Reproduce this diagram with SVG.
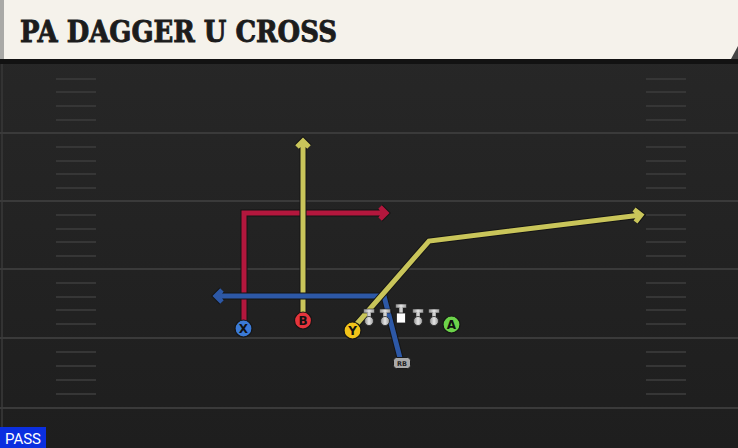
<svg xmlns="http://www.w3.org/2000/svg" width="738" height="448" viewBox="0 0 738 448">
<defs>
<linearGradient id="fieldGrad" x1="0" y1="0" x2="0" y2="1">
<stop offset="0" stop-color="#282828"/>
<stop offset="1" stop-color="#1e1e1e"/>
</linearGradient>
<linearGradient id="olGrad" x1="0" y1="0" x2="1" y2="0">
<stop offset="0" stop-color="#8a8a8a"/>
<stop offset="0.5" stop-color="#e6e6e6"/>
<stop offset="1" stop-color="#9a9a9a"/>
</linearGradient>
<g id="lineman">
<rect x="-5.5" y="-12" width="11" height="4" fill="url(#olGrad)" stroke="#222" stroke-width="0.6"/>
<rect x="-2" y="-9" width="4" height="7" fill="url(#olGrad)"/>
<circle cx="0" cy="0" r="4.5" fill="url(#olGrad)" stroke="#222" stroke-width="0.8"/>
</g>
</defs>
<style>
.yard{stroke:#3a3a3a;stroke-width:2}
.hash{stroke:#363636;stroke-width:2}
.ol{fill:none;stroke:#151515;stroke-width:7;stroke-linejoin:miter;stroke-linecap:butt}
.rt{fill:none;stroke-width:5;stroke-linejoin:miter;stroke-linecap:butt}
.red{stroke:#b3173d}
.yel{stroke:#c9c55a}
.blu{stroke:#2d58a6}
.lbl{font-family:"DejaVu Sans","Liberation Sans",sans-serif;font-weight:bold;font-size:12px;fill:#111;text-anchor:middle}
.pc{stroke:#151515;stroke-width:1.2}
</style>

<!-- field -->
<rect x="0" y="0" width="738" height="448" fill="url(#fieldGrad)"/>
<line x1="2" y1="62" x2="2" y2="448" stroke="#333" stroke-width="2"/>
<g id="yardlines">
<line class="yard" x1="0" y1="133" x2="738" y2="133"/>
<line class="yard" x1="0" y1="201" x2="738" y2="201"/>
<line class="yard" x1="0" y1="269" x2="738" y2="269"/>
<line class="yard" x1="0" y1="338" x2="738" y2="338"/>
<line class="yard" x1="0" y1="408" x2="738" y2="408"/>
</g>
<g id="hashes">
<path class="hash" d="M56,79H96M56,92H96M56,106H96M56,120H96M56,147H96M56,161H96M56,174H96M56,188H96M56,215H96M56,229H96M56,242H96M56,256H96M56,283H96M56,297H96M56,310H96M56,324H96M56,352H96M56,366H96M56,380H96M56,394H96"/>
<path class="hash" d="M646,79H686M646,92H686M646,106H686M646,120H686M646,147H686M646,161H686M646,174H686M646,188H686M646,215H686M646,229H686M646,242H686M646,256H686M646,283H686M646,297H686M646,310H686M646,324H686M646,352H686M646,366H686M646,380H686M646,394H686"/>
</g>

<!-- header -->
<g id="header">
<rect x="0" y="58" width="738" height="6" fill="#121212"/>
<rect x="0" y="0" width="738" height="59" fill="#f5f2eb"/>
<rect x="0" y="0" width="4" height="59" fill="#a9a9a6"/>
<polygon points="738,46 738,59 731,59" fill="#444"/>
<text x="20" y="42" font-family="'DejaVu Serif','Liberation Serif',serif" font-weight="bold" font-size="29" fill="#1c1c1c" stroke="#1c1c1c" stroke-width="0.9" textLength="317" lengthAdjust="spacingAndGlyphs">PA DAGGER U CROSS</text>
</g>

<!-- routes -->
<g id="connectors">
<g id="route-x">
<path class="ol" d="M244,322V213H386M380,207L386,213L380,219"/>
<path class="rt red" d="M244,322V213H386M380,207L386,213L380,219"/>
</g>
<g id="route-b">
<path class="ol" d="M303,314V141M297,147L303,141L309,147"/>
<path class="rt yel" d="M303,314V141M297,147L303,141L309,147"/>
</g>
<g id="route-rb">
<path class="ol" d="M400,358L384,296H216M222,290L216,296L222,302"/>
<path class="rt blu" d="M400,358L384,296H216M222,290L216,296L222,302"/>
</g>
<g id="route-y">
<path class="ol" d="M355,326L429,241L641,215M634,209.5L641,215L635.5,222"/>
<path class="rt yel" d="M355,326L429,241L641,215M634,209.5L641,215L635.5,222"/>
</g>
</g>

<!-- offensive line -->
<g id="ol">
<use href="#lineman" x="369" y="321"/>
<use href="#lineman" x="385" y="321"/>
<g id="center">
<rect x="395.5" y="304" width="11" height="4" fill="url(#olGrad)" stroke="#222" stroke-width="0.6"/>
<rect x="399" y="307" width="4" height="7" fill="url(#olGrad)"/>
<rect x="396.5" y="313" width="9" height="10" fill="#ffffff" stroke="#222" stroke-width="0.8"/>
</g>
<use href="#lineman" x="418" y="321"/>
<use href="#lineman" x="434" y="321"/>
</g>

<!-- players -->
<g id="player-x">
<circle class="pc" cx="243.5" cy="328.5" r="8.5" fill="#3b7ad6"/>
<text class="lbl" x="243.5" y="332.8">X</text>
</g>
<g id="player-b">
<circle class="pc" cx="303" cy="320.5" r="8.5" fill="#e5343c"/>
<text class="lbl" x="303" y="324.8">B</text>
</g>
<g id="player-y">
<circle class="pc" cx="352.5" cy="330.5" r="8.5" fill="#f1c319"/>
<text class="lbl" x="352.5" y="334.8">Y</text>
</g>
<g id="player-a">
<circle class="pc" cx="451.5" cy="324.5" r="8.5" fill="#6cd34a"/>
<text class="lbl" x="451.5" y="328.8">A</text>
</g>
<g id="player-rb">
<rect x="393.5" y="357.5" width="17" height="11" rx="3" fill="#a9a9a9" stroke="#1a1a1a" stroke-width="1"/>
<text x="402" y="366" font-family="'DejaVu Sans','Liberation Sans',sans-serif" font-weight="bold" font-size="6.5" fill="#222" text-anchor="middle">RB</text>
</g>

<!-- pass tag -->
<g id="pass-tag">
<rect x="0" y="427" width="46" height="21" fill="#0b2fe0"/>
<text x="23" y="444" font-family="'Liberation Sans Narrow','Roboto','Liberation Sans',sans-serif" font-size="15" fill="#ffffff" text-anchor="middle">PASS</text>
</g>
</svg>
